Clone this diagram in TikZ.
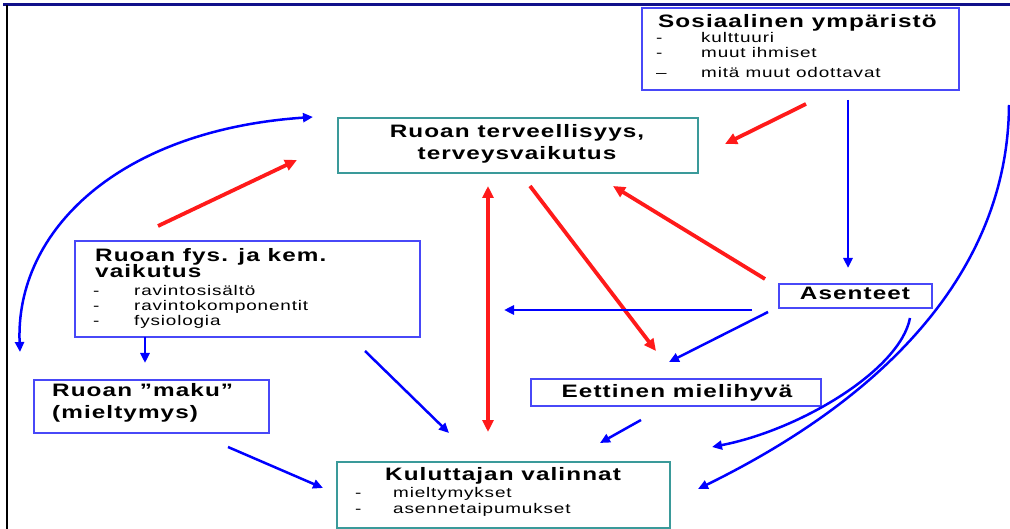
\documentclass[tikz,border=0pt]{standalone}
\usepackage{fontspec}
\setmainfont{Liberation Sans}[FakeStretch=1.35, LetterSpace=6]
\usetikzlibrary{arrows.meta}
\definecolor{boxblue}{HTML}{4848F8}
\definecolor{boxteal}{HTML}{3A9A9A}
\definecolor{arrblue}{HTML}{0000FF}
\definecolor{arrred}{HTML}{FF1A1A}
\definecolor{framenavy}{HTML}{10108A}

\tikzset{
  bbox/.style={draw=boxblue, line width=1.8pt, inner sep=0pt, anchor=north west},
  tbox/.style={draw=boxteal, line width=1.8pt, inner sep=0pt, anchor=north west},
  head/.style={font=\bfseries\fontsize{18}{21}\selectfont, inner sep=0pt},
  item/.style={font=\fontsize{14}{16}\selectfont, inner sep=0pt, anchor=base west},
  barr/.style={draw=arrblue, line width=2.5pt, -{Triangle[length=10pt,width=9pt]}},
  rarr/.style={draw=arrred, line width=3.8pt, -{Triangle[length=12pt,width=11pt]}},
}

\begin{document}
\begin{tikzpicture}[x=1pt,y=-1pt]
\useasboundingbox (0,0) rectangle (1010,529);

% frame along the top and left edges
\draw[framenavy, line width=3pt] (3,5) -- (1010,5);
\draw[black, line width=2pt] (7,5) -- (7,529);

% ---- boxes ----
\node[bbox, minimum width=317pt, minimum height=82pt] (soc)  at (641,7)   {};
\node[tbox, minimum width=360pt, minimum height=55pt] (terv) at (337,117) {};
\node[bbox, minimum width=345pt, minimum height=96pt] (fys)  at (74,240)  {};
\node[bbox, minimum width=153pt, minimum height=24pt] (asen) at (778,283) {};
\node[bbox, minimum width=235pt, minimum height=53pt] (maku) at (33,379)  {};
\node[bbox, minimum width=290pt, minimum height=27pt] (eet)  at (530,378) {};
\node[tbox, minimum width=333pt, minimum height=66pt] (kul)  at (336,461) {};

% ---- texts ----
% Sosiaalinen ympäristö
\node[head, anchor=base west] (socT) at (658,28) {Sosiaalinen ympäristö};
\node[item] (socD1) at (656,43) {-};
\node[item] (socD2) at (656,58) {-};
\node[item] (socD3) at (656,78) {–};
\node[item] (soc1) at (701,43) {kulttuuri};
\node[item] (soc2) at (701,58) {muut ihmiset};
\node[item] (soc3) at (701,78) {mitä muut odottavat};

% Ruoan terveellisyys
\node[head, anchor=base] (tervT1) at (517,138) {Ruoan terveellisyys,};
\node[head, anchor=base] (tervT2) at (517,160) {terveysvaikutus};

% Ruoan fys. ja kem. vaikutus
\node[head, anchor=base west] (fysT1) at (95,262) {Ruoan fys. ja kem.};
\node[head, anchor=base west] (fysT2) at (95,278) {vaikutus};
\node[item] (fysD1) at (93,296) {-};
\node[item] (fysD2) at (93,311) {-};
\node[item] (fysD3) at (93,326) {-};
\node[item] (fys1) at (134,296) {ravintosisältö};
\node[item] (fys2) at (134,311) {ravintokomponentit};
\node[item] (fys3) at (134,326) {fysiologia};

% Asenteet
\node[head, anchor=base] (asenT) at (855,300) {Asenteet};

% Ruoan maku
\node[head, anchor=base west] (makuT1) at (52,397) {Ruoan ”maku”};
\node[head, anchor=base west] (makuT2) at (52,418) {(mieltymys)};

% Eettinen mielihyvä
\node[head, anchor=base] (eetT) at (677,398) {Eettinen mielihyvä};

% Kuluttajan valinnat
\node[head, anchor=base] (kulT) at (503,480) {Kuluttajan valinnat};
\node[item] (kulD1) at (355,497) {-};
\node[item] (kulD2) at (355,513) {-};
\node[item] (kul1) at (393,497) {mieltymykset};
\node[item] (kul2) at (393,513) {asennetaipumukset};

% ---- connector end points ----
\coordinate (r1a) at (158,226);  \coordinate (r1b) at (297,160);
\coordinate (r2a) at (806,104);  \coordinate (r2b) at (725,144);
\coordinate (r3a) at (765,279);  \coordinate (r3b) at (613,186);
\coordinate (r4a) at (488,432);  \coordinate (r4b) at (488,186);
\coordinate (r5a) at (530,186);  \coordinate (r5b) at (656,351);

\coordinate (b1a) at (20,352);   \coordinate (b1b) at (313,117);
\coordinate (b2a) at (848,100);  \coordinate (b2b) at (848,268);
\coordinate (b3a) at (752,310);  \coordinate (b3b) at (504,310);
\coordinate (b4a) at (768,312);  \coordinate (b4b) at (669,362);
\coordinate (b5a) at (145,337);  \coordinate (b5b) at (145,363);
\coordinate (b6a) at (365,351);  \coordinate (b6b) at (449,433);
\coordinate (b7a) at (641,420);  \coordinate (b7b) at (600,443);
\coordinate (b8a) at (228,447);  \coordinate (b8b) at (323,488);
\coordinate (b9a) at (910,318);  \coordinate (b9b) at (712,447);
\coordinate (b10a) at (1009,105); \coordinate (b10b) at (698,489);

% ---- red connectors ----
\draw[rarr] (r1a) -- (r1b);
\draw[rarr] (r2a) -- (r2b);
\draw[rarr] (r3a) -- (r3b);
\draw[rarr, {Triangle[length=12pt,width=11pt]}-{Triangle[length=12pt,width=11pt]}] (r4a) -- (r4b);
\draw[rarr] (r5a) -- (r5b);

% ---- blue connectors ----
\draw[barr, {Triangle[length=10pt,width=9pt]}-{Triangle[length=10pt,width=9pt]}]
  (b1a) .. controls (15,230) and (120,130) .. (b1b);
\draw[barr] (b2a) -- (b2b);
\draw[barr] (b3a) -- (b3b);
\draw[barr] (b4a) -- (b4b);
\draw[barr] (b5a) -- (b5b);
\draw[barr] (b6a) -- (b6b);
\draw[barr] (b7a) -- (b7b);
\draw[barr] (b8a) -- (b8b);
\draw[barr] (b9a) .. controls (900,370) and (800,430) .. (b9b);
\draw[barr] (b10a) .. controls (1008,260) and (900,390) .. (b10b);
\end{tikzpicture}
\end{document}
